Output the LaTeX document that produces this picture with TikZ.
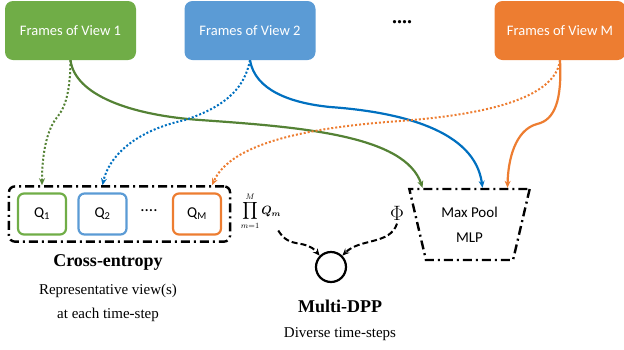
\documentclass[tikz,border=0pt]{standalone}
\usepackage{fontspec}
\usepackage{amsmath,bm}
\setmainfont{Liberation Serif}
\setsansfont{Carlito}
\usetikzlibrary{shapes.geometric,arrows.meta,fit}
\definecolor{viewGreen}{RGB}{112,173,71}
\definecolor{viewBlue}{RGB}{91,155,213}
\definecolor{viewOrange}{RGB}{237,125,49}
\definecolor{lineGreen}{RGB}{84,130,53}
\definecolor{lineBlue}{RGB}{0,112,192}

\begin{document}
\begin{tikzpicture}[x=1pt,y=-1pt]
\tikzset{
  viewbox/.style={rounded corners=8pt, minimum width=131pt, minimum height=59pt, text=white, font=\sffamily\fontsize{14.5}{16}\selectfont},
  qbox/.style={draw, line width=2.2pt, rounded corners=6pt, fill=white, minimum width=48pt, minimum height=41pt, font=\sffamily\fontsize{15}{17}\selectfont},
  dashdotbox/.style={draw, line width=2.4pt, dash pattern=on 9pt off 4pt on 2pt off 4pt},
  solidarrow/.style={line width=2.2pt, -{Stealth[length=7pt,width=6pt]}},
  dotarrow/.style={line width=2pt, dash pattern=on 2pt off 2pt, -{Stealth[length=7pt,width=6pt]}},
  dasharrow/.style={line width=2pt, dash pattern=on 6pt off 3pt, -{Stealth[length=7pt,width=6pt]}}
}
\useasboundingbox (0,0) rectangle (624,349);

  \node[viewbox, fill=viewGreen] (view1) at (70.5,30.5) {Frames of View 1};
  \node[viewbox, fill=viewBlue] (view2) at (250,30.5) {Frames of View 2};
  \node[viewbox, fill=viewOrange] (viewM) at (560,30.5) {Frames of View M};
  \node[font=\bfseries\fontsize{20}{22}\selectfont] (topdots) at (402,22) {....};

  \node[qbox, draw=viewGreen] (q1) at (42,214) {Q\textsubscript{1}};
  \node[qbox, draw=viewBlue] (q2) at (102.5,214) {Q\textsubscript{2}};
  \node[font=\sffamily\fontsize{17}{19}\selectfont] (qdots) at (149,211) {....};
  \node[qbox, draw=viewOrange] (qM) at (197,214) {Q\textsubscript{M}};
  \node[dashdotbox, rounded corners=6pt, fit=(q1)(qM), inner xsep=8pt, inner ysep=6pt] (ce) {};

  \node[font=\bfseries\fontsize{18}{20}\selectfont] (celabel) at (108,262) {Cross-entropy};
  \node[font=\fontsize{15}{24}\selectfont, align=center] (cetext) at (108,303) {Representative view(s)\\at each time-step};

  \node[font=\large, inner sep=1pt] (prod) at (261,211) {$\displaystyle\prod_{m=1}^{M}\bm{Q_m}$};
  \node[font=\fontsize{20}{22}\selectfont] (phi) at (397,213) {$\Phi$};

  \node[circle, draw, line width=2.2pt, minimum size=30pt] (dpp) at (331,267) {};
  \node[font=\bfseries\fontsize{18}{20}\selectfont] (dpplabel) at (340,306) {Multi-DPP};
  \node[font=\fontsize{15}{17}\selectfont] (dpptext) at (340,334) {Diverse time-steps};

  \node[trapezium, shape border rotate=180, trapezium left angle=74, trapezium right angle=74,
        dashdotbox, minimum width=121pt, minimum height=71pt, trapezium stretches=true,
        align=center, font=\sffamily\fontsize{15}{25}\selectfont] (pool) at (469.5,224.5) {Max Pool\\MLP};

  % view streams to the pool
  \draw[solidarrow, lineGreen] (view1.south) .. controls (75,95) and (130,115) .. (200,120)
        .. controls (300,127) and (405,135) .. ([xshift=-47pt]pool.north);
  \draw[solidarrow, lineBlue] (view2.south) .. controls (255,90) and (290,103) .. (330,107)
        .. controls (400,112) and (475,130) .. ([xshift=13pt]pool.north);
  \draw[solidarrow, viewOrange] (viewM.south) .. controls (562,100) and (555,120) .. (537,124)
        .. controls (515,130) and (508,160) .. ([xshift=38pt]pool.north);

  % view streams to the Q's
  \draw[dotarrow, lineGreen] (view1.south) .. controls (70,100) and (63,110) .. (55,120)
        .. controls (45,135) and (42,160) .. (ce.north -| q1);
  \draw[dotarrow, lineBlue] (view2.south) .. controls (245,85) and (230,105) .. (185,120)
        .. controls (130,132) and (108,160) .. (ce.north -| q2);
  \draw[dotarrow, viewOrange] (viewM.south) .. controls (555,100) and (480,115) .. (400,121)
        .. controls (300,128) and (230,145) .. ([xshift=15pt]ce.north -| qM);

  \draw[dasharrow] ([xshift=-4pt]prod.south east) .. controls (290,250) and (305,238) .. (dpp.north west);
  \draw[dasharrow] (phi.south) .. controls (390,245) and (360,238) .. (dpp.north east);

\end{tikzpicture}
\end{document}
